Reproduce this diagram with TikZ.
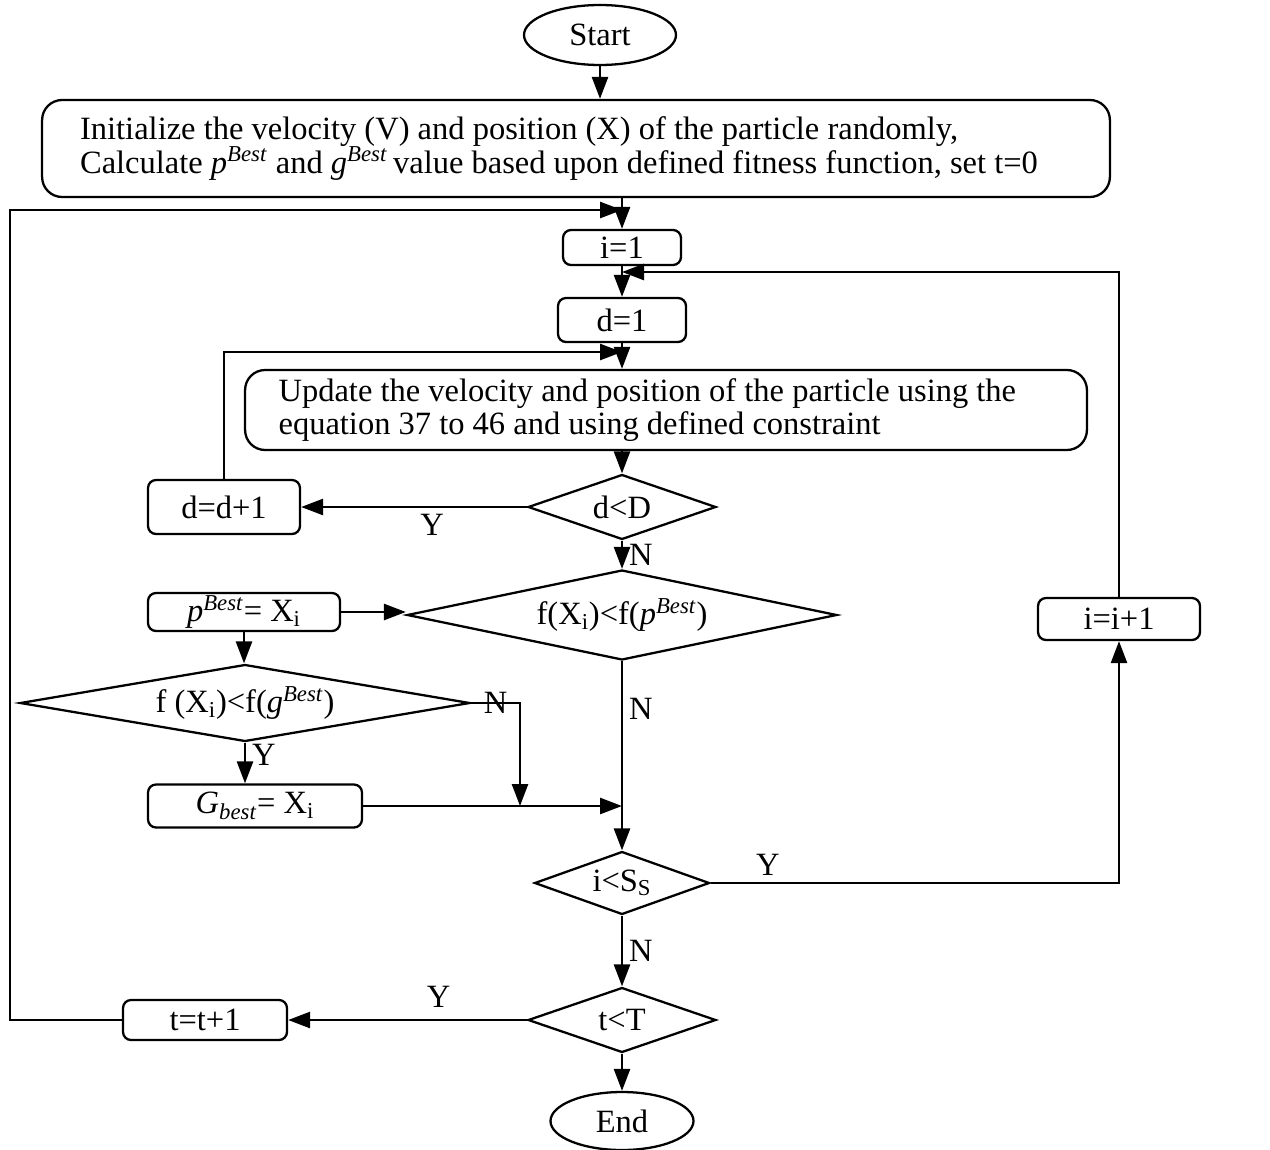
\documentclass[tikz,border=0pt]{standalone}
\usepackage{fontspec}
\setmainfont{Liberation Serif}
\usepackage{tikz}
\usetikzlibrary{shapes.geometric,arrows.meta,positioning,calc}
\tikzset{
	>={Triangle[length=4.4mm,width=3.2mm]},
	dedge/.style={arrows=->, black, line width=1.5pt},
}
\tikzstyle{nrect} = [rectangle, draw=black, line width=1.3pt, rounded corners=1.6mm, inner sep=0pt]
\tikzstyle{nbig} = [nrect, rounded corners=4mm, align=flush left]
\tikzstyle{ndiam} = [diamond, draw=black, line width=1.3pt, inner sep=0pt]
\tikzstyle{nterm} = [ellipse, draw=black, line width=1.3pt, inner sep=0pt]

\newcommand{\pbest}{\textit{p}\textsuperscript{\textit{Best}}}
\newcommand{\gbest}{\textit{g}\textsuperscript{\textit{Best}}}

\begin{document}
\begin{tikzpicture}[x=0.02cm, y=-0.02cm, font=\fontsize{18.5}{18.8}\selectfont]
	\useasboundingbox (0,0) rectangle (1270,1149);

	% main column
	\node[nterm, minimum width=3.04cm, minimum height=1.2cm] (start) at (600,35) {Start};
	\node[nbig, minimum height=1.94cm, text width=19.84cm, inner xsep=0.76cm] (init) at (576,148.5)
		{Initialize the velocity (V) and position (X) of the particle randomly,\\
		 Calculate \pbest\ and \gbest\,value based upon defined fitness function, set t=0};
	\node[nrect, minimum width=2.36cm, minimum height=0.7cm] (i1) at (622,247.5) {i=1};
	\node[nrect, minimum width=2.56cm, minimum height=0.88cm] (d1) at (622,320) {d=1};
	\node[nbig, minimum height=1.6cm, text width=15.5cm, inner xsep=0.67cm] (upd) at (666,410)
		{Update the velocity and position of the particle using the\\
		 equation 37 to 46 and using defined constraint};
	\node[ndiam, aspect=2.89, minimum width=3.76cm, minimum height=1.3cm] (dD) at (622,507) {d<D};
	\node[ndiam, aspect=4.78, minimum width=8.6cm, minimum height=1.8cm] (fp) at (622,615)
		{f(X\textsubscript{i})<f(\pbest)};
	\node[ndiam, aspect=2.78, minimum width=3.5cm, minimum height=1.26cm] (iSs) at (622,883)
		{i<S\textsubscript{S}};
	\node[ndiam, aspect=2.89, minimum width=3.76cm, minimum height=1.3cm] (tT) at (622,1020) {t<T};
	\node[nterm, minimum width=2.86cm, minimum height=1.16cm] (end) at (622,1121) {End};

	% left side
	\node[nrect, minimum width=3.04cm, minimum height=1.08cm] (dinc) at (224,507) {d=d+1};
	\node[nrect, minimum width=3.84cm, minimum height=0.76cm] (pb) at (244,612) {\pbest= X\textsubscript{i}};
	\node[ndiam, aspect=5.84, minimum width=9.0cm, minimum height=1.54cm] (fg) at (245,703)
		{f (X\textsubscript{i})<f(\gbest)};
	\node[nrect, minimum width=4.28cm, minimum height=0.86cm] (gb) at (255,806)
		{\textit{G}\textsubscript{\textit{best}}= X\textsubscript{i}};
	\node[nrect, minimum width=3.28cm, minimum height=0.8cm] (tinc) at (205,1020) {t=t+1};

	% right side
	\node[nrect, minimum width=3.24cm, minimum height=0.84cm] (iinc) at (1119,619) {i=i+1};

	% junctions of the loops
	\coordinate (lft) at (10,1020);
	\coordinate (ij) at (622,210);
	\coordinate (ia) at (622,272);
	\coordinate (dj) at (622,352);
	\coordinate (nj) at (520,806);

	% straight flow
	\draw[dedge] (start.south) -- (start.south |- init.north);
	\draw[dedge] (init.south -| i1) -- (i1.north);
	\path (i1) edge[dedge] (d1);
	\draw[dedge] (d1.south) -- (d1.south |- upd.north);
	\draw[dedge] (upd.south -| dD) -- (dD.north);
	\path (dD.south) edge[dedge] node[right] {N} (fp.north);
	\path (fp.south) edge[dedge] node[right, pos=0.25] {N} (iSs.north);
	\path (iSs.south) edge[dedge] node[right] {N} (tT.north);
	\path (tT.south) edge[dedge] (end.north);

	% d loop
	\path (dD.west) edge[dedge] node[below, pos=0.42] {Y} (dinc.east);
	\draw[dedge] (dinc.north) |- (dj);

	% personal and global best
	\path (pb.east) edge[dedge] (pb.east -| fp.west);
	\path (pb.south) edge[dedge] (pb.south |- fg.north);
	\draw[dedge] (fg.south) -- node[right, pos=0.3] {Y} (fg.south |- gb.north);
	\draw[dedge] (fg.east) -| node[pos=0.25] {N} (nj);
	\draw[dedge] (gb.east) -- (gb.east -| fp.south);

	% i loop
	\draw[dedge] (iSs.east) -| node[above, pos=0.07] {Y} (iinc.south);
	\draw[dedge] (iinc.north) |- (ia);

	% t loop
	\path (tT.west) edge[dedge] node[above=3pt, pos=0.37] {Y} (tinc.east);
	\draw[dedge] (tinc.west) -- (lft) |- (ij);
\end{tikzpicture}
\end{document}
